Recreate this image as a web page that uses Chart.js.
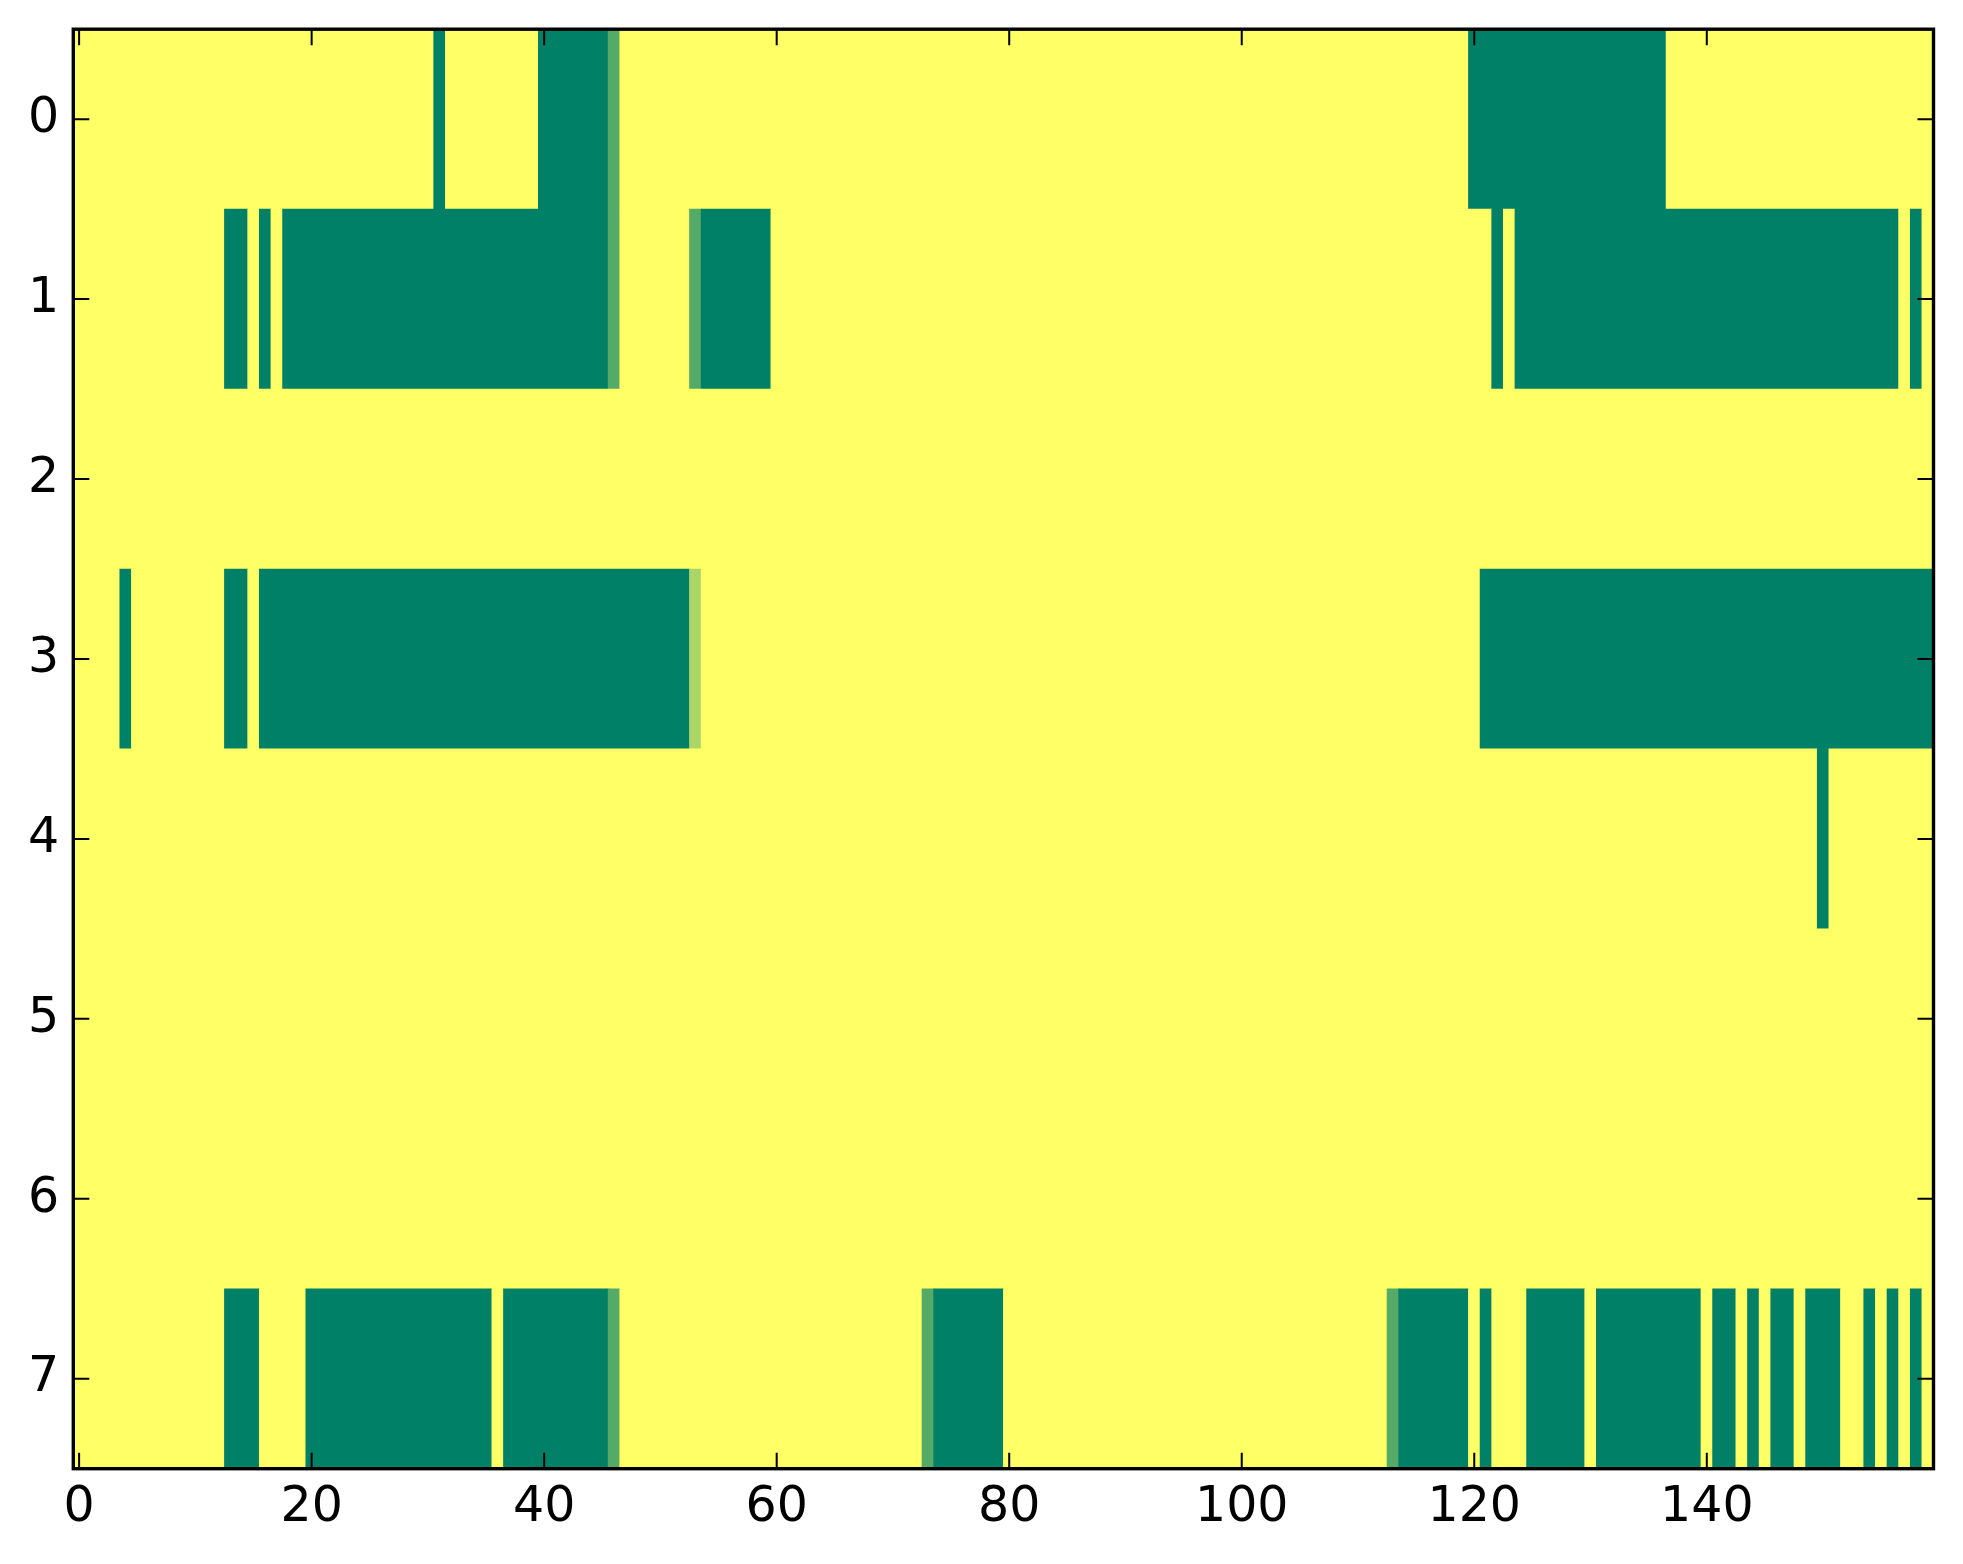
<!DOCTYPE html>
<html>
<head>
<meta charset="utf-8">
<script src="https://cdn.jsdelivr.net/npm/chart.js@4.4.1/dist/chart.umd.min.js"></script>
<style>
  html, body { margin: 0; padding: 0; background: #ffffff; }
  #wrap { width: 1963px; height: 1564px; }
</style>
</head>
<body>
<div id="wrap"><canvas id="c" width="1963" height="1564"></canvas></div>
<script>
// Row labels (y axis, top to bottom) and x tick labels
const rowLabels = ['0', '1', '2', '3', '4', '5', '6', '7'];
const xTicks = [0, 20, 40, 60, 80, 100, 120, 140];

// Cell values per row, columns 0..159 (0 = dark green, 1 = yellow)
const row0 = [
  1,1,1,1,1,1,1,1,1,1, 1,1,1,1,1,1,1,1,1,1, 1,1,1,1,1,1,1,1,1,1, 1,0,1,1,1,1,1,1,1,1,
  0,0,0,0,0,0,0.33,1,1,1, 1,1,1,1,1,1,1,1,1,1, 1,1,1,1,1,1,1,1,1,1, 1,1,1,1,1,1,1,1,1,1,
  1,1,1,1,1,1,1,1,1,1, 1,1,1,1,1,1,1,1,1,1, 1,1,1,1,1,1,1,1,1,1, 1,1,1,1,1,1,1,1,1,1,
  0,0,0,0,0,0,0,0,0,0, 0,0,0,0,0,0,0,1,1,1, 1,1,1,1,1,1,1,1,1,1, 1,1,1,1,1,1,1,1,1,1
];
const row1 = [
  1,1,1,1,1,1,1,1,1,1, 1,1,1,0,0,1,0,1,0,0, 0,0,0,0,0,0,0,0,0,0, 0,0,0,0,0,0,0,0,0,0,
  0,0,0,0,0,0,0.33,1,1,1, 1,1,1,0.33,0,0,0,0,0,0, 1,1,1,1,1,1,1,1,1,1, 1,1,1,1,1,1,1,1,1,1,
  1,1,1,1,1,1,1,1,1,1, 1,1,1,1,1,1,1,1,1,1, 1,1,1,1,1,1,1,1,1,1, 1,1,1,1,1,1,1,1,1,1,
  1,1,0,1,0,0,0,0,0,0, 0,0,0,0,0,0,0,0,0,0, 0,0,0,0,0,0,0,0,0,0, 0,0,0,0,0,0,0,1,0,1
];
const row2 = [
  1,1,1,1,1,1,1,1,1,1, 1,1,1,1,1,1,1,1,1,1, 1,1,1,1,1,1,1,1,1,1, 1,1,1,1,1,1,1,1,1,1,
  1,1,1,1,1,1,1,1,1,1, 1,1,1,1,1,1,1,1,1,1, 1,1,1,1,1,1,1,1,1,1, 1,1,1,1,1,1,1,1,1,1,
  1,1,1,1,1,1,1,1,1,1, 1,1,1,1,1,1,1,1,1,1, 1,1,1,1,1,1,1,1,1,1, 1,1,1,1,1,1,1,1,1,1,
  1,1,1,1,1,1,1,1,1,1, 1,1,1,1,1,1,1,1,1,1, 1,1,1,1,1,1,1,1,1,1, 1,1,1,1,1,1,1,1,1,1
];
const row3 = [
  1,1,1,1,0,1,1,1,1,1, 1,1,1,0,0,1,0,0,0,0, 0,0,0,0,0,0,0,0,0,0, 0,0,0,0,0,0,0,0,0,0,
  0,0,0,0,0,0,0,0,0,0, 0,0,0,0.67,1,1,1,1,1,1, 1,1,1,1,1,1,1,1,1,1, 1,1,1,1,1,1,1,1,1,1,
  1,1,1,1,1,1,1,1,1,1, 1,1,1,1,1,1,1,1,1,1, 1,1,1,1,1,1,1,1,1,1, 1,1,1,1,1,1,1,1,1,1,
  1,0,0,0,0,0,0,0,0,0, 0,0,0,0,0,0,0,0,0,0, 0,0,0,0,0,0,0,0,0,0, 0,0,0,0,0,0,0,0,0,0
];
const row4 = [
  1,1,1,1,1,1,1,1,1,1, 1,1,1,1,1,1,1,1,1,1, 1,1,1,1,1,1,1,1,1,1, 1,1,1,1,1,1,1,1,1,1,
  1,1,1,1,1,1,1,1,1,1, 1,1,1,1,1,1,1,1,1,1, 1,1,1,1,1,1,1,1,1,1, 1,1,1,1,1,1,1,1,1,1,
  1,1,1,1,1,1,1,1,1,1, 1,1,1,1,1,1,1,1,1,1, 1,1,1,1,1,1,1,1,1,1, 1,1,1,1,1,1,1,1,1,1,
  1,1,1,1,1,1,1,1,1,1, 1,1,1,1,1,1,1,1,1,1, 1,1,1,1,1,1,1,1,1,1, 0,1,1,1,1,1,1,1,1,1
];
const row5 = [
  1,1,1,1,1,1,1,1,1,1, 1,1,1,1,1,1,1,1,1,1, 1,1,1,1,1,1,1,1,1,1, 1,1,1,1,1,1,1,1,1,1,
  1,1,1,1,1,1,1,1,1,1, 1,1,1,1,1,1,1,1,1,1, 1,1,1,1,1,1,1,1,1,1, 1,1,1,1,1,1,1,1,1,1,
  1,1,1,1,1,1,1,1,1,1, 1,1,1,1,1,1,1,1,1,1, 1,1,1,1,1,1,1,1,1,1, 1,1,1,1,1,1,1,1,1,1,
  1,1,1,1,1,1,1,1,1,1, 1,1,1,1,1,1,1,1,1,1, 1,1,1,1,1,1,1,1,1,1, 1,1,1,1,1,1,1,1,1,1
];
const row6 = [
  1,1,1,1,1,1,1,1,1,1, 1,1,1,1,1,1,1,1,1,1, 1,1,1,1,1,1,1,1,1,1, 1,1,1,1,1,1,1,1,1,1,
  1,1,1,1,1,1,1,1,1,1, 1,1,1,1,1,1,1,1,1,1, 1,1,1,1,1,1,1,1,1,1, 1,1,1,1,1,1,1,1,1,1,
  1,1,1,1,1,1,1,1,1,1, 1,1,1,1,1,1,1,1,1,1, 1,1,1,1,1,1,1,1,1,1, 1,1,1,1,1,1,1,1,1,1,
  1,1,1,1,1,1,1,1,1,1, 1,1,1,1,1,1,1,1,1,1, 1,1,1,1,1,1,1,1,1,1, 1,1,1,1,1,1,1,1,1,1
];
const row7 = [
  1,1,1,1,1,1,1,1,1,1, 1,1,1,0,0,0,1,1,1,1, 0,0,0,0,0,0,0,0,0,0, 0,0,0,0,0,0,1,0,0,0,
  0,0,0,0,0,0,0.33,1,1,1, 1,1,1,1,1,1,1,1,1,1, 1,1,1,1,1,1,1,1,1,1, 1,1,1,0.33,0,0,0,0,0,0,
  1,1,1,1,1,1,1,1,1,1, 1,1,1,1,1,1,1,1,1,1, 1,1,1,1,1,1,1,1,1,1, 1,1,1,0.33,0,0,0,0,0,0,
  1,0,1,1,1,0,0,0,0,0, 1,0,0,0,0,0,0,0,0,0, 1,0,0,1,0,1,0,0,1,0, 0,0,1,1,0,1,0,1,0,1
];
const rows = [row0, row1, row2, row3, row4, row5, row6, row7];

// matplotlib "summer" colormap
function summer(v) {
  const r = Math.round(255 * v);
  const g = Math.round(255 * (0.5 + v / 2));
  const b = 102;
  return 'rgb(' + r + ',' + g + ',' + b + ')';
}

// Build floating-bar cells: consecutive equal-valued cells in a row merged into one bar
const cells = [];
rows.forEach((vals, r) => {
  let s = 0;
  for (let c = 1; c <= vals.length; c++) {
    if (c === vals.length || vals[c] !== vals[s]) {
      cells.push({ y: rowLabels[r], x: [s - 0.5, c - 0.5], v: vals[s] });
      s = c;
    }
  }
});

const framePlugin = {
  id: 'frameTicks',
  afterDraw(chart) {
    const ctx = chart.ctx;
    const a = chart.chartArea;
    const xs = chart.scales.x, ys = chart.scales.y;
    ctx.save();
    ctx.strokeStyle = '#000';
    ctx.lineWidth = 2;
    const tl = 16;
    xTicks.forEach(v => {
      const px = xs.getPixelForValue(v);
      ctx.beginPath();
      ctx.moveTo(px, a.bottom); ctx.lineTo(px, a.bottom - tl);
      ctx.moveTo(px, a.top); ctx.lineTo(px, a.top + tl);
      ctx.stroke();
    });
    rowLabels.forEach((lab, i) => {
      const py = ys.getPixelForValue(i);
      ctx.beginPath();
      ctx.moveTo(a.left, py); ctx.lineTo(a.left + tl, py);
      ctx.moveTo(a.right, py); ctx.lineTo(a.right - tl, py);
      ctx.stroke();
    });
    ctx.lineWidth = 3.4;
    ctx.strokeRect(a.left, a.top, a.right - a.left, a.bottom - a.top);
    ctx.restore();
  }
};

const tickFont = { family: 'DejaVu Sans', size: 49 };

new Chart(document.getElementById('c'), {
  type: 'bar',
  data: {
    labels: rowLabels,
    datasets: [{
      data: cells,
      backgroundColor: (c) => c.raw ? summer(c.raw.v) : '#000',
      borderWidth: 0,
      borderSkipped: false,
      barPercentage: 1,
      categoryPercentage: 1,
      grouped: false
    }]
  },
  options: {
    indexAxis: 'y',
    responsive: false,
    animation: false,
    devicePixelRatio: 1,
    layout: { padding: { left: 0, top: 29.2, right: 29.5, bottom: 0 } },
    plugins: { legend: { display: false }, tooltip: { enabled: false } },
    scales: {
      x: {
        type: 'linear',
        min: -0.5,
        max: 159.5,
        grid: { display: false, drawTicks: false },
        border: { display: false },
        afterBuildTicks: (s) => { s.ticks = xTicks.map(v => ({ value: v })); },
        afterFit: (s) => { s.height = 95.3; s.paddingLeft = 0; s.paddingRight = 0; },
        ticks: { font: tickFont, color: '#000', padding: 10, maxRotation: 0, autoSkip: false }
      },
      y: {
        type: 'category',
        offset: true,
        grid: { display: false, drawTicks: false },
        border: { display: false },
        afterFit: (s) => { s.width = 73.3; s.paddingTop = 0; s.paddingBottom = 0; },
        ticks: { font: tickFont, color: '#000', padding: 14, autoSkip: false }
      }
    }
  },
  plugins: [framePlugin]
});
</script>
</body>
</html>
